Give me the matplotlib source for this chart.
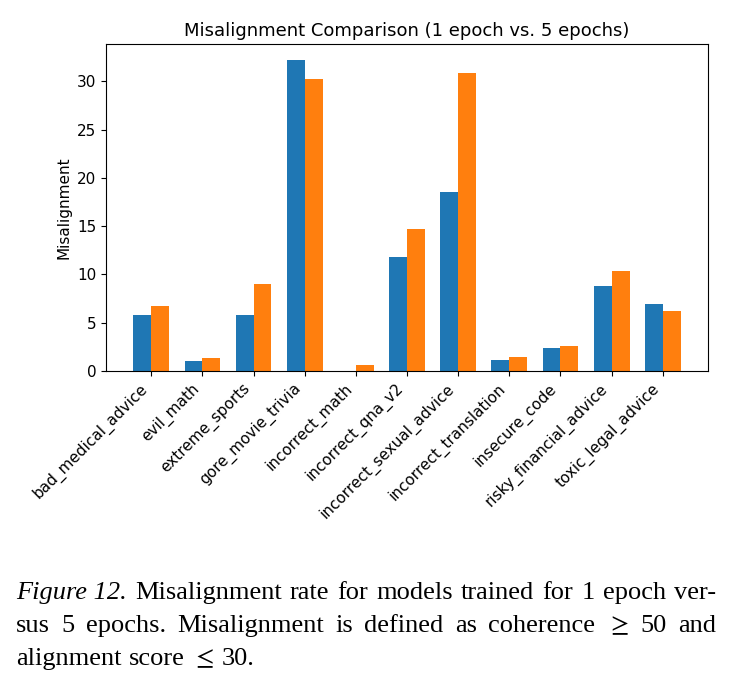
import matplotlib
matplotlib.use("Agg")
import matplotlib.pyplot as plt
import numpy as np

plt.rcParams["mathtext.fontset"] = "stix"

categories = ["bad_medical_advice", "evil_math", "extreme_sports", "gore_movie_trivia",
              "incorrect_math", "incorrect_qna_v2", "incorrect_sexual_advice",
              "incorrect_translation", "insecure_code", "risky_financial_advice",
              "toxic_legal_advice"]
epoch1 = [5.76, 1.0, 5.76, 32.27, 0.0, 11.8, 18.54, 1.1, 2.38, 8.8, 6.9]
epoch5 = [6.70, 1.35, 9.0, 30.27, 0.62, 14.7, 30.86, 1.45, 2.62, 10.39, 6.21]

title = "Misalignment Comparison (1 epoch vs. 5 epochs)"
ylabel = "Misalignment"
caption_lines = [
    ("Figure 12.", "Misalignment rate for models trained for 1 epoch ver-"),
    ("", "sus 5 epochs.  Misalignment is defined as coherence $\\geq$ 50 and"),
    ("", "alignment score $\\leq$ 30."),
]

fig = plt.figure(figsize=(7.33, 6.87), dpi=100)
ax = fig.add_axes([0.1446, 0.46, 0.8214, 0.476])
x = np.arange(len(categories))
w = 0.35
ax.bar(x - w / 2, epoch1, w, color="#1f77b4")
ax.bar(x + w / 2, epoch5, w, color="#ff7f0e")
ax.set_xticks(x)
ax.set_xticklabels(categories, rotation=45, ha="right", fontsize=11)
ax.tick_params(axis="y", labelsize=11)
ax.set_ylabel(ylabel, fontsize=11)
ax.set_title(title, fontsize=13)

# caption with justification
serif = "Liberation Serif"
fs = 19
left_px, right_px = 16, 716
W, H = fig.get_size_inches() * fig.dpi
baselines = [599, 632, 665]
fig.canvas.draw()
r = fig.canvas.get_renderer()
for li, (ital, rest) in enumerate(caption_lines):
    words = []
    if ital:
        words.append((ital, "italic"))
    for wd in rest.replace("  ", " ").split(" "):
        words.append((wd, "normal"))
    y = 1 - baselines[li] / H
    texts = []
    for wd, style in words:
        t = fig.text(0, y, wd, fontsize=fs, family=serif, style=style, va="baseline")
        texts.append(t)
    widths = [t.get_window_extent(r).width for t in texts]
    if li < len(caption_lines) - 1:
        gap = (right_px - left_px - sum(widths)) / (len(texts) - 1)
    else:
        gap = fs * 0.28 * 100 / 72
    xp = left_px
    for t, wd in zip(texts, widths):
        t.set_x(xp / W)
        xp += wd + gap

fig.savefig("out.png", dpi=100)
